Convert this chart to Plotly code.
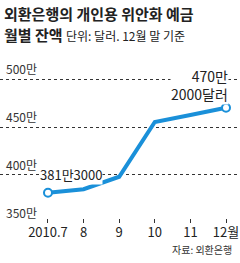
import plotly.graph_objects as go

months = ["2010.7", "8", "9", "10", "11", "12월"]
balance = [381.3, 385.0, 398.0, 455.3, 462.5, 470.2]  # 단위: 만 달러
ytick_vals = [350, 400, 450, 500]
first_label = "381만3000"
last_label = "470만<br>2000달러"
title1 = "외환은행의 개인용 위안화 예금"
title2_bold = "월별 잔액"
title2_note = "단위: 달러. 12월 말 기준"
source = "자료: 외환은행"

BLUE = "#1a90d9"
TXT = "#222222"
NARROW = "Liberation Sans Narrow, Arial Narrow, Noto Sans CJK KR, sans-serif"
KR = "Noto Sans CJK KR, sans-serif"

xs = list(range(len(months)))
fig = go.Figure()
fig.add_trace(go.Scatter(x=xs, y=balance, mode="lines",
                         line=dict(color=BLUE, width=4), hoverinfo="skip"))
fig.add_trace(go.Scatter(x=[xs[0], xs[-1]], y=[balance[0], balance[-1]], mode="markers",
                         marker=dict(size=8, color="white", line=dict(color=BLUE, width=2)),
                         hoverinfo="skip"))

ann = []
for v in ytick_vals:
    ann.append(dict(x=0.015, xref="paper", y=v, yref="y", text=f"{v}만", showarrow=False,
                    xanchor="left", yanchor="bottom", yshift=0,
                    font=dict(family=NARROW, size=12, color="#333")))
ann.append(dict(x=xs[0], y=balance[0], text=first_label, showarrow=False,
                xanchor="left", yanchor="middle", xshift=-9, yshift=18,
                bgcolor="white", borderpad=0,
                font=dict(family=NARROW, size=13, color=TXT)))
ann.append(dict(x=xs[-1], y=balance[-1], text=last_label, showarrow=False,
                xanchor="right", yanchor="middle", align="right", xshift=3, yshift=23,
                bgcolor="white", borderpad=0,
                font=dict(family=NARROW, size=14, color=TXT)))
ann.append(dict(x=0.01, xref="paper", y=1.285, yref="paper", text=f"<b>{title1}</b>",
                showarrow=False, xanchor="left", yanchor="middle",
                font=dict(family=KR, size=15, color=TXT)))
ann.append(dict(x=0.01, xref="paper", y=1.155, yref="paper",
                text=f"<b>{title2_bold}</b> <span style='font-size:12px'>{title2_note}</span>",
                showarrow=False, xanchor="left", yanchor="middle",
                font=dict(family=KR, size=15, color=TXT)))
ann.append(dict(x=0.975, xref="paper", y=-0.165, yref="paper", text=source,
                showarrow=False, xanchor="right", yanchor="middle",
                font=dict(family=KR, size=10, color="#333")))

fig.update_layout(
    width=240, height=263, margin=dict(l=0, r=0, t=60, b=40),
    paper_bgcolor="white", plot_bgcolor="white", showlegend=False,
    annotations=ann,
    xaxis=dict(range=[-1.348, 5.393], tickvals=xs, ticktext=months, showgrid=False,
               zeroline=False, showline=False, ticks="inside", ticklen=4, tickwidth=1,
               tickcolor="#333", tickfont=dict(family=NARROW, size=13, color=TXT),
               fixedrange=True),
    yaxis=dict(range=[349.6, 520.1], tickvals=ytick_vals, showticklabels=False,
               showgrid=True, gridcolor="#333", gridwidth=1, griddash="dot",
               zeroline=False, showline=False, fixedrange=True),
)
fig.write_html("out.html")
